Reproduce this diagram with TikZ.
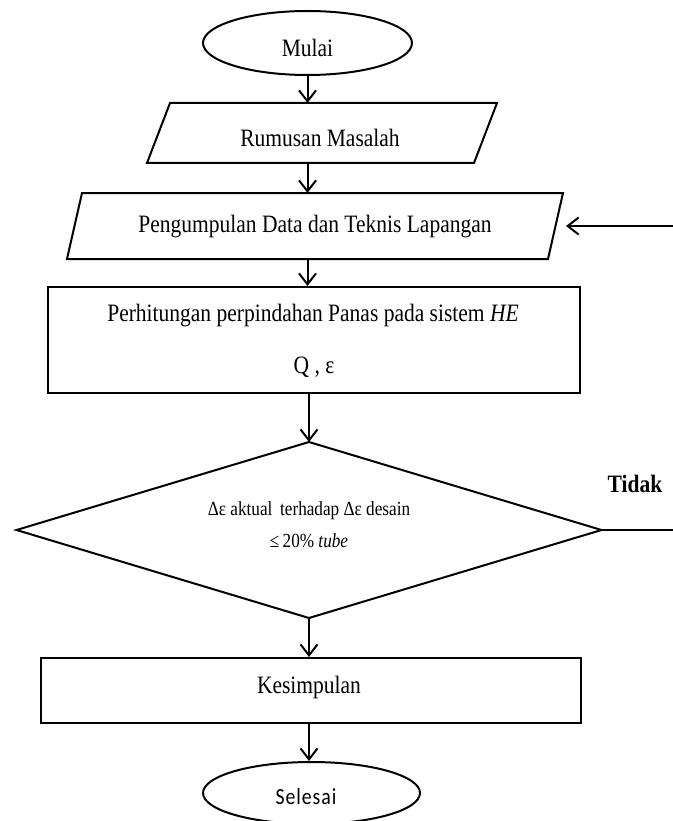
\documentclass[tikz,border=0pt]{standalone}
\usepackage{fontspec}
\setmainfont[FakeStretch=0.86]{Liberation Serif}
\newfontfamily\selfont[FakeStretch=0.86,LetterSpace=4]{Carlito}
\usetikzlibrary{arrows.meta,shapes.geometric}
\begin{document}
\begin{tikzpicture}[x=1pt,y=-1pt,line width=2pt,
  arr/.style={-{Straight Barb[length=11pt,width=17pt,line width=2pt]}},
  txt/.style={font=\fontsize{25}{29}\selectfont, inner sep=0pt},
  small/.style={font=\fontsize{20}{24}\selectfont, inner sep=0pt},
  frame/.style={inner sep=0pt, minimum width=#1},
  oval/.style={draw, ellipse, inner sep=0pt, minimum width=#1}
]
\useasboundingbox (0,0) rectangle (672,821);

% terminals
\node[oval=209pt, minimum height=64pt] (mulai) at (307.5,43) {};
\node[txt] (mulait) at (307.5,48) {Mulai};
\node[oval=217pt, minimum height=62pt] (selesai) at (311.5,793) {};
\node[font=\selfont\fontsize{23}{27}\selectfont, inner sep=0pt] (selesait) at (306,797) {Selesai};

% parallelograms (frames, then outlines)
\node[frame=348pt, minimum height=58pt] (rum) at (322,133) {};
\node[txt] (rumt) at (320,138) {Rumusan Masalah};
\draw ([xshift=23pt]rum.north west) -- (rum.north east) -- ([xshift=-23pt]rum.south east) -- (rum.south west) -- cycle;

\node[frame=494pt, minimum height=64pt] (data) at (315,226) {};
\node[txt] (datat) at (315,227) {Pengumpulan Data dan Teknis Lapangan};
\draw ([xshift=15pt]data.north west) -- (data.north east) -- ([xshift=-15pt]data.south east) -- (data.south west) -- cycle;

% process box
\node[draw, frame=532pt, minimum height=106pt] (hit) at (314,340) {};
\node[txt] (hit1) at (313,316) {Perhitungan perpindahan Panas pada sistem \textit{HE}};
\node[font=\fontsize{25}{29}\selectfont, inner sep=0pt] (hit2) at (314,367) {Q , ε};

% decision
\node[frame=583pt, minimum height=174pt] (dec) at (309,530) {};
\draw (dec.north) -- (dec.east) -- (dec.south) -- (dec.west) -- cycle;
\node[small] (dec1) at (309,511) {Δε aktual\, terhadap Δε desain};
\node[small] (dec2) at (309,541) {≤\,20\% \textit{tube}};
\node[font=\bfseries\fontsize{25}{29}\selectfont, inner sep=0pt] (tidak) at (635,484) {Tidak};

% conclusion
\node[draw, frame=540pt, minimum height=65pt] (kes) at (311,690.5) {};
\node[txt] (kest) at (309,687) {Kesimpulan};

% connectors
\draw[arr] (mulai.south) -- (mulai.south |- rum.north);
\draw[arr] (mulai.south |- rum.south) -- (mulai.south |- data.north);
\draw[arr] (mulai.south |- data.south) -- (mulai.south |- hit.north);
\draw[arr] (dec.north |- hit.south) -- (dec.north);
\draw[arr] (dec.south) -- (dec.south |- kes.north);
\draw[arr] (dec.south |- kes.south) -- (dec.south |- selesai.north);
\draw[arr] (dec.east) -- ++(110,0) |- ([xshift=3pt]data.east);
\end{tikzpicture}
\end{document}
